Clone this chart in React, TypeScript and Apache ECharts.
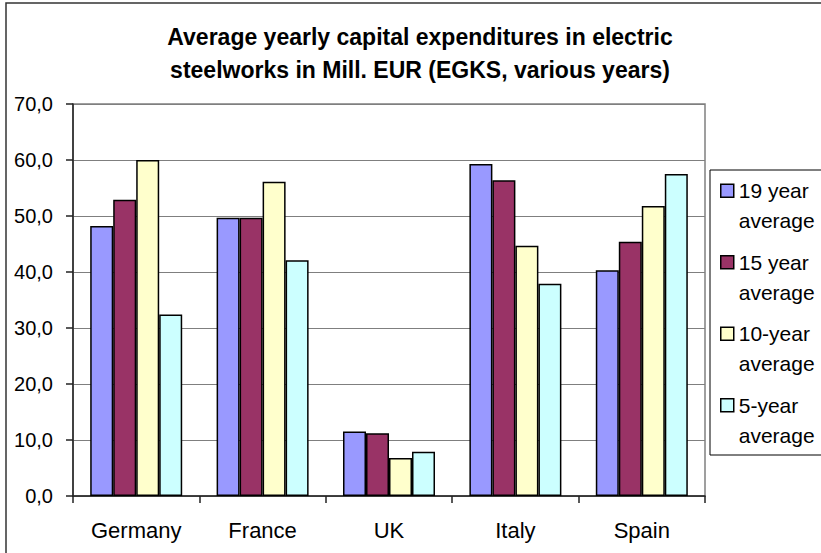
import React, { useEffect, useRef } from "react";
import * as echarts from "echarts";

const categories = ["Germany", "France", "UK", "Italy", "Spain"];
const seriesNames = ["19 year average", "15 year average", "10-year average", "5-year average"];
const avg19 = [48.2, 49.7, 11.5, 59.3, 40.3];
const avg15 = [52.9, 49.7, 11.2, 56.4, 45.4];
const avg10 = [60.0, 56.1, 6.8, 44.7, 51.8];
const avg5 = [32.4, 42.1, 7.9, 37.9, 57.5];
const colors = ["#9999FF", "#993366", "#FFFFCC", "#CCFFFF"];
const titleText = "Average yearly capital expenditures in electric\nsteelworks in Mill. EUR (EGKS, various years)";

const FONT = "'Liberation Sans', Arial, sans-serif";

export default function App() {
  const ref = useRef<HTMLDivElement>(null);
  useEffect(() => {
    if (!ref.current) return;
    const chart = echarts.init(ref.current, null, { renderer: "svg" });
    const data = [avg19, avg15, avg10, avg5];
    chart.setOption({
      animation: false,
      backgroundColor: "#fff",
      textStyle: { fontFamily: FONT },
      title: {
        text: titleText,
        left: 420,
        top: 20,
        padding: 0,
        textAlign: "center",
        textStyle: {
          fontFamily: FONT,
          fontSize: 23,
          fontWeight: "bold",
          lineHeight: 33,
          color: "#000",
        },
      },
      graphic: [
        {
          type: "rect",
          shape: { x: 6, y: 3, width: 900, height: 700 },
          style: { fill: "none", stroke: "#333", lineWidth: 1.5 },
          silent: true,
          z: 100,
        },
      ],
      legend: {
        orient: "vertical",
        left: 710,
        top: 170,
        padding: [5, 10, 4, 10],
        itemGap: 10,
        itemWidth: 13,
        itemHeight: 60,
        icon: "path://M0,0L0,0M0,8.5H13V21.5H0ZM0,60L0,60",
        itemStyle: { borderColor: "#000", borderWidth: 1.5 },
        backgroundColor: "#fff",
        borderColor: "#000",
        borderWidth: 1,
        borderRadius: 0,
        data: seriesNames,
        formatter: (name: string) => name.replace(" average", "\naverage"),
        textStyle: { fontFamily: FONT, fontSize: 21, lineHeight: 30, color: "#000" },
      },
      grid: {
        left: 73,
        right: 116,
        top: 104,
        bottom: 57,
        show: true,
        borderColor: "#808080",
        borderWidth: 1.5,
        backgroundColor: "transparent",
      },
      xAxis: {
        type: "category",
        data: categories,
        axisLine: { lineStyle: { color: "#222", width: 1.5 } },
        axisTick: { show: true, alignWithLabel: false, length: 7, lineStyle: { color: "#222", width: 1.5 } },
        axisLabel: { fontFamily: FONT, fontSize: 22, color: "#000", margin: 23 },
        splitLine: { show: false },
      },
      yAxis: {
        type: "value",
        min: 0,
        max: 70,
        interval: 10,
        axisLine: { show: true, lineStyle: { color: "#222", width: 1.5 } },
        axisTick: { show: true, length: 7, lineStyle: { color: "#222", width: 1.5 } },
        axisLabel: {
          fontFamily: FONT,
          fontSize: 20,
          color: "#000",
          margin: 20,
          formatter: (v: number) => v.toFixed(1).replace(".", ","),
        },
        splitLine: { show: true, lineStyle: { color: "#7f7f7f", width: 1 } },
      },
      series: seriesNames.map((name, i) => ({
        name,
        type: "bar",
        data: data[i],
        barWidth: 23,
        barGap: "0%",
        itemStyle: { color: colors[i], borderColor: "#000", borderWidth: 1.5 },
      })),
    });
    return () => chart.dispose();
  }, []);
  return (
    <div
      ref={ref}
      style={{ position: "fixed", left: 0, top: 0, width: 821, height: 553 }}
    />
  );
}
